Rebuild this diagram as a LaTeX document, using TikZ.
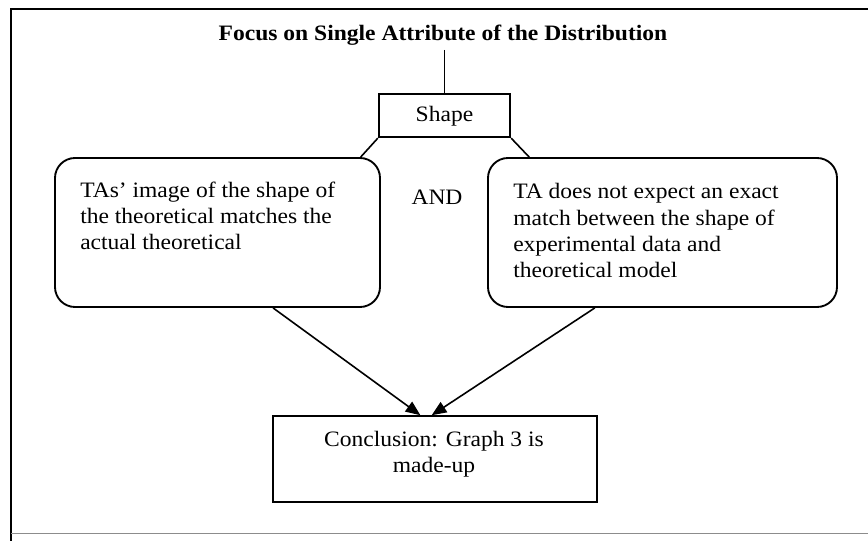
\documentclass[tikz,border=0pt]{standalone}
\usepackage{fontspec}
\setmainfont[FakeStretch=1.07]{Liberation Serif}
\usetikzlibrary{arrows.meta,calc}
\begin{document}
\begin{tikzpicture}[x=0.75pt,y=-0.75pt,
  txt/.style={font=\fontsize{16.5}{19.8}\selectfont, inner sep=0pt, align=left},
  rbox/.style={draw, line width=1.4pt, rounded corners=15pt, inner sep=0pt},
  sbox/.style={draw, line width=1.8pt, inner sep=0pt},
  cboxst/.style={draw, line width=1.2pt, inner sep=0pt},
  link/.style={line width=1.2pt},
  arr/.style={line width=1.2pt, -{Triangle[length=11pt,width=9pt]}}]
\useasboundingbox (0,0) rectangle (868,541);
% frame
\draw[line width=1.8pt] (868,9) -- (11,9) -- (11,541);
\draw[line width=0.6pt, black!45] (11,533) -- (868,533);
% title
\node[txt, font=\fontsize{16.5}{19.8}\selectfont\bfseries, anchor=base] (title) at (443,41) {Focus on Single Attribute of the Distribution};
% shape
\node[sbox, minimum width=98.25pt, minimum height=32.25pt] (shape) at (444.5,115.5) {};
\node[txt, anchor=base] (shapet) at (444.5,122) {Shape};
\draw[link] (444.5,50) coordinate (tl) -- (shape.north);
% left box
\node[rbox, minimum width=243.75pt, minimum height=111.75pt] (lbox) at (217.5,232.5) {};
\node[txt, anchor=base west] (ltext) at (80,250) {TAs' image of the shape of\\the theoretical matches the\\actual theoretical};
% right box
\node[rbox, minimum width=261.75pt, minimum height=111.75pt] (rbox) at (662.5,232.5) {};
\node[txt, anchor=base west] (rtext) at (513,278) {TA does not expect an exact\\match between the shape of\\experimental data and\\theoretical model};
% AND
\node[txt, anchor=base] (and) at (437,205) {AND};
% conclusion
\node[cboxst, minimum width=243pt, minimum height=64.5pt] (cbox) at (435,459) {};
\node[txt, align=center, anchor=base] (ctext) at (434,473) {Conclusion: Graph 3 is\\made-up};
% links
\draw[link] (shape.south west) -- ($(lbox.north west)!0.938!(lbox.north east)$);
\draw[link] (shape.south east) -- ($(rbox.north west)!0.12!(rbox.north east)$);
\draw[arr] ($(lbox.south west)!0.67!(lbox.south east)$) -- ($(cbox.north west)!0.455!(cbox.north east)$);
\draw[arr] ($(rbox.south west)!0.307!(rbox.south east)$) -- ($(cbox.north west)!0.49!(cbox.north east)$);
\end{tikzpicture}
\end{document}
